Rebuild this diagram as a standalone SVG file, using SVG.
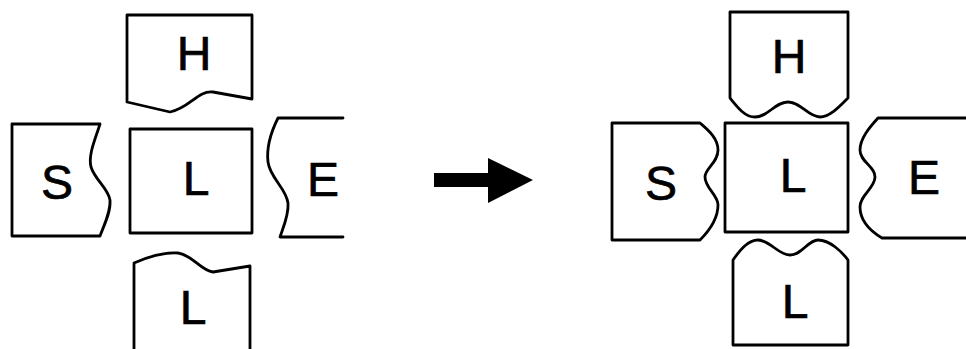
<svg xmlns="http://www.w3.org/2000/svg" width="966" height="349" viewBox="0 0 966 349">
<style>
.sh{fill:none;stroke:#000;stroke-width:2.8;stroke-linejoin:round;stroke-linecap:round}
.t{font-family:"Liberation Sans",Arial,sans-serif;font-size:48px;fill:#000;stroke:#000;stroke-width:0.7;text-anchor:middle}
</style>
<rect width="966" height="349" fill="#fff"/>
<g id="before">
<g id="b-H"><path class="sh" d="M127,15 H252 V99 L213,92 C198,90 190,108 170,112 L127,102 Z"/><text class="t" x="194" y="70">H</text></g>
<g id="b-L"><rect class="sh" x="130" y="129" width="122" height="104"/><text class="t" x="196" y="195">L</text></g>
<g id="b-S"><path class="sh" d="M12,124 H100 C95,140 88,155 91,167 C95,180 108,188 110,200 C111,212 104,225 100,236 H12 Z"/><text class="t" x="57" y="199">S</text></g>
<g id="b-E"><path class="sh" d="M343,118 H278 C272,130 266,145 268,162 C270,178 286,188 288,203 C289,215 283,228 280,237 H343"/><text class="t" x="323" y="196">E</text></g>
<g id="b-L2"><path class="sh" d="M134,349 V263 C150,256 165,252 178,253 C193,255 200,270 213,272 L250,266 V349"/><text class="t" x="193" y="324">L</text></g>
</g>
<g id="connectors">
<polygon points="434,173 488,173 488,158 533,180 488,203 488,187 434,187" fill="#000"/>
</g>
<g id="after">
<g id="a-H"><path class="sh" d="M730,12 H848 V98 C840,106 830,117 820,117 C808,117 801,102 788,102 C775,102 768,117 755,117 C745,117 738,108 730,98 Z"/><text class="t" x="789" y="73">H</text></g>
<g id="a-L"><rect class="sh" x="725" y="123" width="123" height="109"/><text class="t" x="793" y="192">L</text></g>
<g id="a-S"><path class="sh" d="M612,123 H700 C708,130 718,138 718,150 C718,163 705,168 705,177 C705,188 718,195 718,205 C718,220 708,232 700,240 H612 Z"/><text class="t" x="661" y="200">S</text></g>
<g id="a-E"><path class="sh" d="M966,118 H878 C870,127 860,138 860,150 C860,162 875,166 875,177 C875,188 860,195 860,207 C860,222 872,232 882,238 H966"/><text class="t" x="924" y="194">E</text></g>
<g id="a-L2"><path class="sh" d="M733,345 V260 C740,250 748,240 758,240 C770,240 778,255 790,255 C802,255 808,240 818,240 C830,240 842,252 848,260 V345 Z"/><text class="t" x="795" y="318">L</text></g>
</g>
</svg>
